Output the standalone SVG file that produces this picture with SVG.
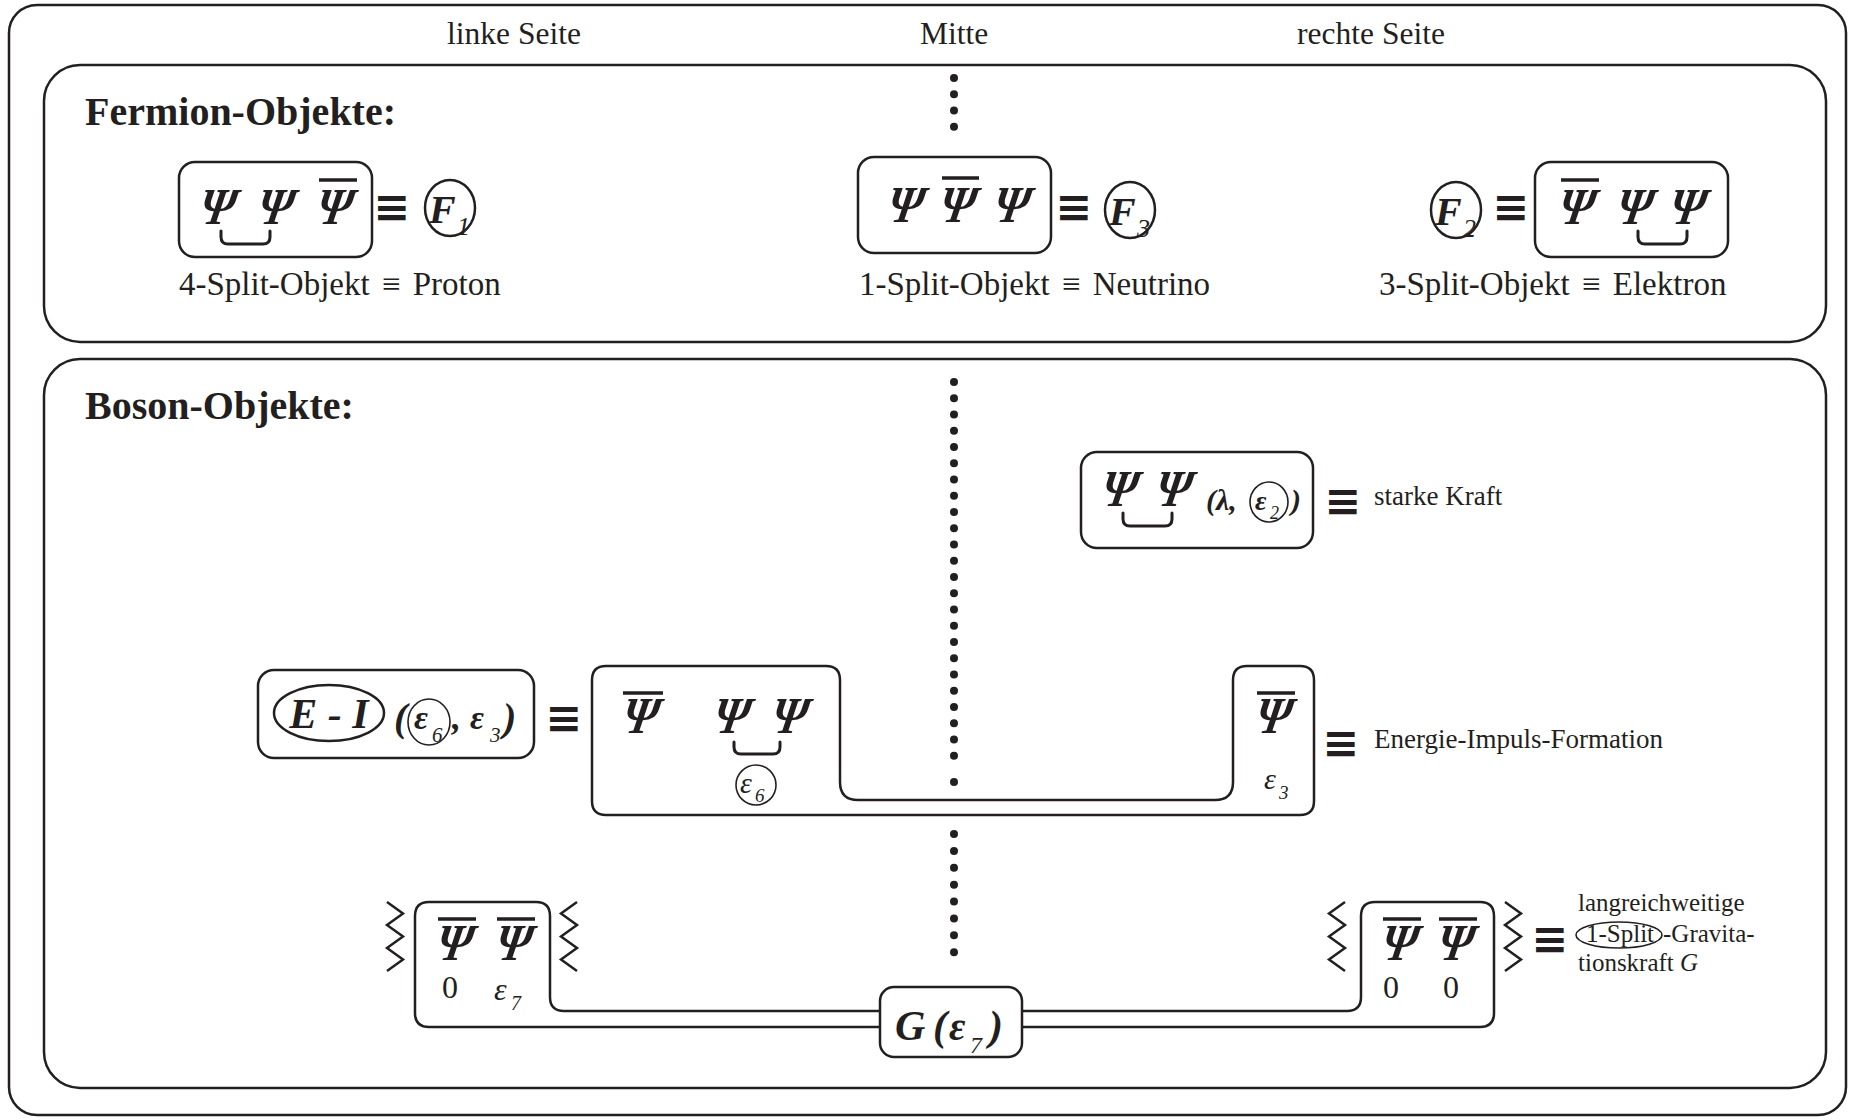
<svg xmlns="http://www.w3.org/2000/svg" width="1856" height="1120" viewBox="0 0 1856 1120">
<style>
.frame{fill:none;stroke:#231f20;stroke-width:2.5}
.box{fill:none;stroke:#231f20;stroke-width:2.5}
.thin{fill:none;stroke:#231f20;stroke-width:1.6}
.bar{stroke:#231f20;stroke-width:3.5}
.brk{fill:none;stroke:#231f20;stroke-width:3;stroke-linecap:round}
.zz{fill:none;stroke:#231f20;stroke-width:2.5}
.dots{stroke:#231f20;stroke-width:8;stroke-linecap:round;fill:none}
text{fill:#231f20;font-family:"Liberation Serif","Times New Roman",serif}
.hd{font-size:31.5px;text-anchor:middle}
.ttl{font-size:40px;font-weight:bold}
.lbl{font-size:33px;word-spacing:4px}
.sm{font-size:27px}
.xs{font-size:25px}
.psi{font-size:50px;font-weight:bold;font-style:italic;text-anchor:middle}
.bi{font-weight:bold;font-style:italic}
.it{font-style:italic}
.eq{font-family:"DejaVu Sans",sans-serif;font-weight:bold;font-size:44px;text-anchor:middle}
</style>

<rect class="frame" x="9" y="5" width="1837" height="1110" rx="28"/>
<text class="hd" x="514" y="44">linke Seite</text>
<text class="hd" x="954" y="44">Mitte</text>
<text class="hd" x="1371" y="44">rechte Seite</text>

<g id="fermion-panel">
<rect class="frame" x="44" y="65" width="1782" height="277" rx="36"/>
<text class="ttl" x="85" y="125">Fermion-Objekte:</text>
</g>
<g id="boson-panel">
<rect class="frame" x="44" y="359" width="1782" height="729" rx="36"/>
<text class="ttl" x="85" y="419">Boson-Objekte:</text>
</g>

<g id="connectors">
<line class="dots" x1="954" y1="78" x2="954" y2="143" stroke-dasharray="0 16.25"/>
<line class="dots" x1="954" y1="382" x2="954" y2="772" stroke-dasharray="0 16.25"/>
<circle cx="954" cy="782" r="4" fill="#231f20"/>
<line class="dots" x1="954" y1="834" x2="954" y2="969" stroke-dasharray="0 16.875"/>
</g>

<g id="proton">
<rect class="box" x="179" y="162" width="193" height="95" rx="16"/>
<text class="psi" transform="translate(215 224) skewX(-10) scale(0.92 1.04)">Ψ</text>
<text class="psi" transform="translate(273 224) skewX(-10) scale(0.92 1.04)">Ψ</text>
<text class="psi" transform="translate(332 224) skewX(-10) scale(0.92 1.04)">Ψ</text>
<line class="bar" x1="319" y1="180" x2="357" y2="180"/>
<path class="brk" d="M221,231 v6 q0,7 7,7 h35 q7,0 7,-7 v-6"/>
<text class="eq" x="392" y="222">≡</text>
<ellipse class="box" cx="450" cy="208" rx="25" ry="28"/>
<text class="bi" x="429" y="223" font-size="40">F</text>
<text class="it" x="457" y="235" font-size="26">1</text>
<text class="lbl" x="179" y="295">4-Split-Objekt ≡ Proton</text>
</g>

<g id="neutrino">
<rect class="box" x="858" y="157" width="193" height="96" rx="16"/>
<text class="psi" transform="translate(903 222) skewX(-10) scale(0.92 1.04)">Ψ</text>
<text class="psi" transform="translate(955 222) skewX(-10) scale(0.92 1.04)">Ψ</text>
<text class="psi" transform="translate(1009 222) skewX(-10) scale(0.92 1.04)">Ψ</text>
<line class="bar" x1="942" y1="178" x2="979" y2="178"/>
<text class="eq" x="1074" y="222">≡</text>
<ellipse class="box" cx="1130" cy="210" rx="25" ry="28"/>
<text class="bi" x="1109" y="225" font-size="40">F</text>
<text class="it" x="1137" y="237" font-size="26">3</text>
<text class="lbl" x="859" y="295">1-Split-Objekt ≡ Neutrino</text>
</g>

<g id="electron">
<ellipse class="box" cx="1456" cy="210" rx="25" ry="28"/>
<text class="bi" x="1435" y="225" font-size="40">F</text>
<text class="it" x="1463" y="237" font-size="26">2</text>
<text class="eq" x="1511" y="222">≡</text>
<rect class="box" x="1535" y="162" width="193" height="95" rx="16"/>
<text class="psi" transform="translate(1574 224) skewX(-10) scale(0.92 1.04)">Ψ</text>
<text class="psi" transform="translate(1632 224) skewX(-10) scale(0.92 1.04)">Ψ</text>
<text class="psi" transform="translate(1685 224) skewX(-10) scale(0.92 1.04)">Ψ</text>
<line class="bar" x1="1561" y1="180" x2="1599" y2="180"/>
<path class="brk" d="M1638,231 v6 q0,7 7,7 h35 q7,0 7,-7 v-6"/>
<text class="lbl" x="1379" y="295">3-Split-Objekt ≡ Elektron</text>
</g>

<g id="strong-force">
<rect class="box" x="1081" y="452" width="232" height="96" rx="16"/>
<text class="psi" transform="translate(1117 506) skewX(-10) scale(0.92 1.04)">Ψ</text>
<text class="psi" transform="translate(1171 506) skewX(-10) scale(0.92 1.04)">Ψ</text>
<path class="brk" d="M1123,513 v6 q0,7 7,7 h35 q7,0 7,-7 v-6"/>
<text class="bi" x="1206" y="510" font-size="30">(λ,</text>
<ellipse class="thin" cx="1269" cy="502" rx="19" ry="20"/>
<text class="bi" x="1255" y="510" font-size="28">ε</text>
<text class="it" x="1270" y="519" font-size="18">2</text>
<text class="bi" x="1291" y="510" font-size="30">)</text>
<text class="eq" x="1343" y="516">≡</text>
<text class="sm" x="1374" y="505">starke Kraft</text>
</g>

<g id="energy-impulse">
<rect class="box" x="258" y="670" width="276" height="88" rx="16"/>
<ellipse class="box" cx="329" cy="713" rx="55" ry="28"/>
<text class="bi" x="329" y="728" font-size="42" text-anchor="middle">E - I</text>
<text class="bi" x="394" y="731" font-size="40">(</text>
<ellipse class="thin" cx="429" cy="722" rx="21" ry="23"/>
<text class="bi" x="414" y="729" font-size="34">ε</text>
<text class="it" x="432" y="742" font-size="21">6</text>
<text class="bi" x="452" y="729" font-size="36">,</text>
<text class="bi" x="470" y="729" font-size="34">ε</text>
<text class="it" x="490" y="742" font-size="21">3</text>
<text class="bi" x="503" y="731" font-size="40">)</text>
<text class="eq" x="564" y="733">≡</text>
<path class="box" d="M606,666 H826 Q840,666 840,680 V782 Q840,800 858,800 H1215 Q1233,800 1233,782 V680 Q1233,666 1247,666 H1300 Q1314,666 1314,680 V801 Q1314,815 1300,815 H606 Q592,815 592,801 V680 Q592,666 606,666 Z"/>
<text class="psi" transform="translate(638 733) skewX(-10) scale(0.92 1.04)">Ψ</text>
<line class="bar" x1="623" y1="693" x2="663" y2="693"/>
<text class="psi" transform="translate(729 733) skewX(-10) scale(0.92 1.04)">Ψ</text>
<text class="psi" transform="translate(787 733) skewX(-10) scale(0.92 1.04)">Ψ</text>
<path class="brk" d="M734,742 v5 q0,7 7,7 h32 q7,0 7,-7 v-5"/>
<ellipse class="thin" cx="756" cy="785" rx="20" ry="20"/>
<text class="it" x="740" y="793" font-size="30">ε</text>
<text class="it" x="755" y="802" font-size="19">6</text>
<text class="psi" transform="translate(1271 733) skewX(-10) scale(0.92 1.04)">Ψ</text>
<line class="bar" x1="1257" y1="693" x2="1295" y2="693"/>
<text class="it" x="1264" y="789" font-size="30">ε</text>
<text class="it" x="1279" y="799" font-size="19">3</text>
<text class="eq" x="1341" y="758">≡</text>
<text class="sm" x="1374" y="748">Energie-Impuls-Formation</text>
</g>

<g id="gravitation">
<path class="box" d="M880,1027 H429 Q415,1027 415,1013 V916 Q415,902 429,902 H536 Q550,902 550,916 V997 Q550,1011 564,1011 H880"/>
<path class="box" d="M1022,1011 H1347 Q1361,1011 1361,997 V916 Q1361,902 1375,902 H1480 Q1494,902 1494,916 V1013 Q1494,1027 1480,1027 H1022"/>
<rect class="box" x="880" y="987" width="142" height="70" rx="14"/>
<text class="bi" x="895" y="1040" font-size="42">G</text>
<text class="bi" x="933" y="1040" font-size="42">(</text>
<text class="bi" x="949" y="1040" font-size="40">ε</text>
<text class="it" x="970" y="1053" font-size="24">7</text>
<text class="bi" x="989" y="1040" font-size="42">)</text>
<polyline class="zz" points="387,902 403,913.5 387,925 403,936.5 387,948 403,959.5 387,971"/>
<polyline class="zz" points="577,902 561,913.5 577,925 561,936.5 577,948 561,959.5 577,971"/>
<polyline class="zz" points="1345,902 1329,913.5 1345,925 1329,936.5 1345,948 1329,959.5 1345,971"/>
<polyline class="zz" points="1505,902 1521,913.5 1505,925 1521,936.5 1505,948 1521,959.5 1505,971"/>
<text class="psi" transform="translate(452 960) skewX(-10) scale(0.92 1.04)">Ψ</text>
<line class="bar" x1="438" y1="919" x2="476" y2="919"/>
<text class="psi" transform="translate(511 960) skewX(-10) scale(0.92 1.04)">Ψ</text>
<line class="bar" x1="497" y1="919" x2="535" y2="919"/>
<text x="450" y="998" text-anchor="middle" font-size="32">0</text>
<text class="it" x="494" y="1000" font-size="32">ε</text>
<text class="it" x="511" y="1010" font-size="20">7</text>
<text class="psi" transform="translate(1397 960) skewX(-10) scale(0.92 1.04)">Ψ</text>
<line class="bar" x1="1383" y1="919" x2="1421" y2="919"/>
<text class="psi" transform="translate(1453 960) skewX(-10) scale(0.92 1.04)">Ψ</text>
<line class="bar" x1="1439" y1="919" x2="1477" y2="919"/>
<text x="1391" y="998" text-anchor="middle" font-size="32">0</text>
<text x="1451" y="998" text-anchor="middle" font-size="32">0</text>
<text class="eq" x="1550" y="954">≡</text>
<text class="xs" x="1578" y="911">langreichweitige</text>
<ellipse class="thin" cx="1619" cy="935" rx="43" ry="13"/>
<text class="xs" x="1620" y="942" text-anchor="middle">1-Split</text>
<text class="xs" x="1663" y="942">-Gravita-</text>
<text class="xs" x="1578" y="971">tionskraft <tspan class="it">G</tspan></text>
</g>
</svg>
